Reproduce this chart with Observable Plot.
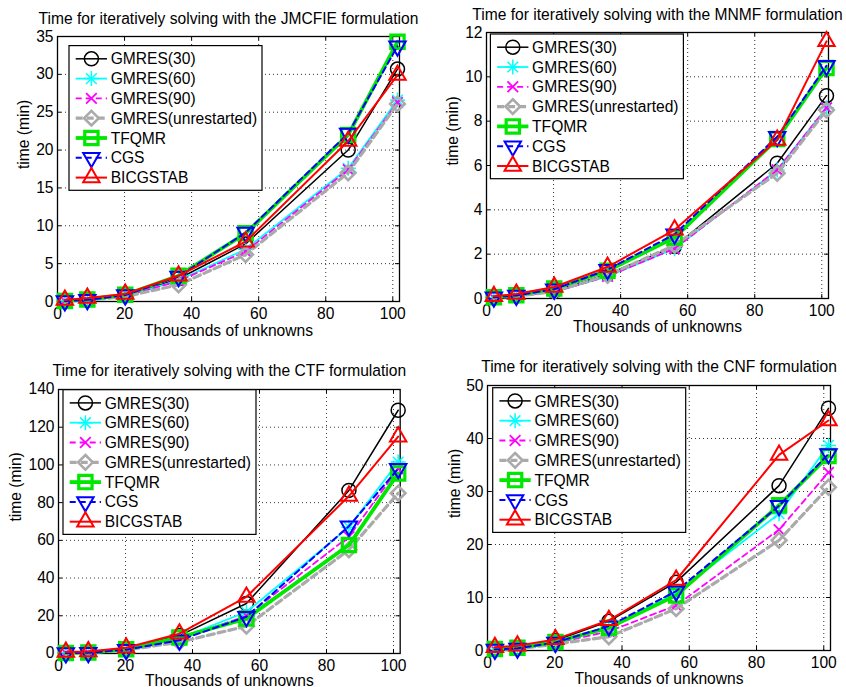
<!DOCTYPE html>
<html>
<head>
<meta charset="utf-8">
<script src="https://cdn.jsdelivr.net/npm/d3@7"></script>
<script src="https://cdn.jsdelivr.net/npm/@observablehq/plot@0.6"></script>
<style>
  body { margin: 0; background: #fff; }
  #fig { position: relative; width: 846px; height: 687px; overflow: hidden;
         font-family: "Liberation Sans", Arial, Helvetica, sans-serif; }
  #fig svg { position: absolute; overflow: visible; }
</style>
</head>
<body>
<div id="fig"></div>
<script>
// Problem sizes (thousands of unknowns) shared by all four formulations
const unknowns = [2.2, 8.9, 20.2, 36.1, 56.1, 86.7, 101.4];
const xTicks = [0, 20, 40, 60, 80, 100];

const solverNames = ["GMRES(30)", "GMRES(60)", "GMRES(90)", "GMRES(unrestarted)", "TFQMR", "CGS", "BICGSTAB"];

// Solution times in minutes, one row per solver (same order as solverNames)
const jmcfieMinutes = [
  [0.05, 0.20, 0.75, 3.0, 7.6, 20.0, 30.7],
  [0.05, 0.18, 0.70, 2.8, 6.9, 17.6, 26.6],
  [0.05, 0.18, 0.70, 2.7, 6.6, 17.4, 26.3],
  [0.04, 0.17, 0.65, 2.2, 6.2, 17.0, 26.1],
  [0.08, 0.25, 0.90, 3.4, 9.0, 22.0, 34.3],
  [0.06, 0.22, 0.85, 3.3, 9.1, 22.2, 33.7],
  [0.20, 0.45, 1.00, 3.4, 7.9, 21.2, 29.9]
];
const mnmfMinutes = [
  [0.05, 0.12, 0.35, 1.10, 2.35, 6.10, 9.15],
  [0.04, 0.11, 0.30, 1.00, 2.25, 5.80, 8.60],
  [0.04, 0.11, 0.30, 1.00, 2.25, 5.80, 8.60],
  [0.04, 0.10, 0.32, 1.05, 2.40, 5.65, 8.50],
  [0.06, 0.15, 0.45, 1.25, 2.75, 7.20, 10.40],
  [0.06, 0.14, 0.42, 1.30, 2.90, 7.30, 10.50],
  [0.10, 0.20, 0.52, 1.42, 3.10, 7.15, 11.60]
];
const ctfMinutes = [
  [0.3, 0.6, 2.5, 9.5, 26.5, 86.5, 129.0],
  [0.2, 0.5, 2.0, 8.0, 22.0, 67.0, 101.5],
  [0.2, 0.5, 2.0, 7.5, 20.0, 62.0, 98.0],
  [0.2, 0.4, 1.8, 6.0, 14.5, 55.0, 85.0],
  [0.3, 0.5, 2.2, 8.5, 18.5, 57.5, 95.5],
  [0.2, 0.4, 2.0, 7.0, 19.5, 67.5, 98.0],
  [0.8, 1.0, 3.0, 10.5, 30.0, 83.5, 115.0]
];
const cnfMinutes = [
  [0.3, 0.5, 1.9, 5.5, 12.9, 31.1, 45.7],
  [0.2, 0.4, 1.5, 4.4, 10.8, 25.8, 38.7],
  [0.2, 0.4, 1.4, 3.6, 8.5, 22.8, 33.6],
  [0.2, 0.3, 1.2, 2.6, 7.9, 20.8, 30.8],
  [0.3, 0.5, 1.6, 4.3, 10.4, 27.4, 36.7],
  [0.2, 0.4, 1.5, 4.6, 11.2, 27.3, 37.1],
  [0.6, 0.9, 2.1, 5.7, 13.3, 36.9, 43.4]
];

const jmcfieTicks = [0, 5, 10, 15, 20, 25, 30, 35];
const mnmfTicks = [0, 2, 4, 6, 8, 10, 12];
const ctfTicks = [0, 20, 40, 60, 80, 100, 120, 140];
const cnfTicks = [0, 10, 20, 30, 40, 50];

// Line and marker styling per solver
const strokeColors = ["#000000", "#00ffff", "#ff00ff", "#aaaaaa", "#00e800", "#0000ff", "#ff0000"];
const lineWidths = [1.5, 1.8, 1.8, 3.2, 3.8, 2, 2];
const lineDashes = [null, null, "6,4", "7,4", null, "6,4", null];
const markerShapes = ["circle", "asterisk", "times", "diamond", "square", "triangleDown", "triangle"];
const markerRadii = [7, 4.9, 4.9, 6.6, 7.5, 6.1, 6.1];
const markerWidths = [1.5, 1.5, 1.8, 2.6, 3.2, 2, 2];

const FONT = "15.6px";

function markerMarks(rows, i) {
  const base = {x: "x", y: "y", r: markerRadii[i], stroke: strokeColors[i], strokeWidth: markerWidths[i], fill: "none"};
  switch (markerShapes[i]) {
    case "asterisk":
      return [Plot.dot(rows, {...base, symbol: "times"}), Plot.dot(rows, {...base, symbol: "times", rotate: 45})];
    case "triangleDown":
      return [Plot.dot(rows, {...base, symbol: "triangle", rotate: 180})];
    case "diamond":
      return [Plot.dot(rows, {...base, symbol: "diamond2"})];
    default:
      return [Plot.dot(rows, {...base, symbol: markerShapes[i]})];
  }
}

function legendSymbol(g, i, cx, cy) {
  const size = Math.PI * markerRadii[i] * markerRadii[i];
  const add = (type, rot) => g.append("path")
    .attr("d", d3.symbol(type, size)())
    .attr("transform", `translate(${cx},${cy}) rotate(${rot})`)
    .attr("fill", "none").attr("stroke", strokeColors[i]).attr("stroke-width", markerWidths[i]);
  switch (markerShapes[i]) {
    case "circle": add(d3.symbolCircle, 0); break;
    case "asterisk": add(d3.symbolTimes, 0); add(d3.symbolTimes, 45); break;
    case "times": add(d3.symbolTimes, 0); break;
    case "diamond": add(d3.symbolDiamond2, 0); break;
    case "square": add(d3.symbolSquare, 0); break;
    case "triangleDown": add(d3.symbolTriangle, 180); break;
    case "triangle": add(d3.symbolTriangle, 0); break;
  }
}

const panels = [
  {title: "Time for iteratively solving with the JMCFIE formulation", minutes: jmcfieMinutes, yTicks: jmcfieTicks,
   frame: [57.3, 35.7, 399.3, 300.7], legend: [69.3, 45.3], titleDy: -17.4, xLabelDy: 29.3, yLabelDx: -34},
  {title: "Time for iteratively solving with the MNMF formulation", minutes: mnmfMinutes, yTicks: mnmfTicks,
   frame: [486.3, 32.3, 828.3, 298.3], legend: [490.7, 34.3], titleDy: -17.3, xLabelDy: 28, yLabelDx: -34},
  {title: "Time for iteratively solving with the CTF formulation", minutes: ctfMinutes, yTicks: ctfTicks,
   frame: [58.3, 389.3, 400.0, 653.3], legend: [63.3, 390.0], titleDy: -18.6, xLabelDy: 27.4, yLabelDx: -42.3},
  {title: "Time for iteratively solving with the CNF formulation", minutes: cnfMinutes, yTicks: cnfTicks,
   frame: [487.3, 385.0, 830.3, 650.0], legend: [493.0, 387.7], titleDy: -18.3, xLabelDy: 28, yLabelDx: -32.6}
];

const fig = document.getElementById("fig");
const ML = 62, MT = 40, MR = 14, MB = 40;

for (const p of panels) {
  const [L, T, R, B] = p.frame;
  const fw = R - L, fh = B - T;
  const grid = {stroke: "#333", strokeOpacity: 1, strokeWidth: 1, strokeDasharray: "1,3"};
  const marks = [
    Plot.gridX(xTicks, grid),
    Plot.gridY(p.yTicks, grid),
    Plot.frame({stroke: "black", strokeWidth: 1.3}),
    Plot.tickX(xTicks, {x: d => d, insetTop: fh - 4, stroke: "black"}),
    Plot.tickX(xTicks, {x: d => d, insetBottom: fh - 4, stroke: "black"}),
    Plot.tickY(p.yTicks, {y: d => d, insetRight: fw - 4, stroke: "black"}),
    Plot.tickY(p.yTicks, {y: d => d, insetLeft: fw - 4, stroke: "black"}),
    Plot.axisX({ticks: xTicks, tickSize: 0, tickPadding: 6.5, label: null, tickFormat: d => d}),
    Plot.axisY({ticks: p.yTicks, tickSize: 0, tickPadding: 4, label: null, tickFormat: d => d}),
    Plot.text([p.title], {frameAnchor: "top", dy: p.titleDy, lineAnchor: "middle", fill: "black"}),
    Plot.text(["Thousands of unknowns"], {frameAnchor: "bottom", dy: p.xLabelDy, lineAnchor: "middle", fill: "black"}),
    Plot.text(["time (min)"], {frameAnchor: "left", dx: p.yLabelDx, rotate: -90, lineAnchor: "middle", fill: "black"})
  ];
  solverNames.forEach((name, i) => {
    const rows = unknowns.map((x, k) => ({x, y: p.minutes[i][k], solver: name}));
    marks.push(Plot.line(rows, {x: "x", y: "y", stroke: strokeColors[i], strokeWidth: lineWidths[i],
                                strokeDasharray: lineDashes[i] ?? undefined}));
    marks.push(...markerMarks(rows, i));
  });

  const chart = Plot.plot({
    width: ML + fw + MR, height: MT + fh + MB,
    marginLeft: ML, marginTop: MT, marginRight: MR, marginBottom: MB,
    style: {fontFamily: '"Liberation Sans", Arial, Helvetica, sans-serif', fontSize: FONT, color: "black", background: "transparent", overflow: "visible"},
    x: {domain: [0, 102]},
    y: {domain: [0, p.yTicks[p.yTicks.length - 1]]},
    marks
  });
  chart.style.left = (L - ML) + "px";
  chart.style.top = (T - MT) + "px";

  // Legend box with line/marker swatches
  const g = d3.select(chart).append("g")
    .attr("transform", `translate(${ML + p.legend[0] - L},${MT + p.legend[1] - T})`);
  g.append("rect").attr("width", 193).attr("height", 144.7)
    .attr("fill", "white").attr("stroke", "black").attr("stroke-width", 1.2);
  solverNames.forEach((name, i) => {
    const cy = 13.2 + i * 19.8;
    const ln = g.append("line").attr("x1", 6.7).attr("x2", 38).attr("y1", cy).attr("y2", cy)
      .attr("stroke", strokeColors[i]).attr("stroke-width", lineWidths[i]);
    if (lineDashes[i]) ln.attr("stroke-dasharray", lineDashes[i]);
    legendSymbol(g, i, 22.4, cy);
    g.append("text").attr("x", 41.7).attr("y", cy).attr("dy", "0.36em")
      .attr("text-anchor", "start").attr("fill", "black").style("font-size", FONT).text(name);
  });
  fig.appendChild(chart);
}
</script>
</body>
</html>
